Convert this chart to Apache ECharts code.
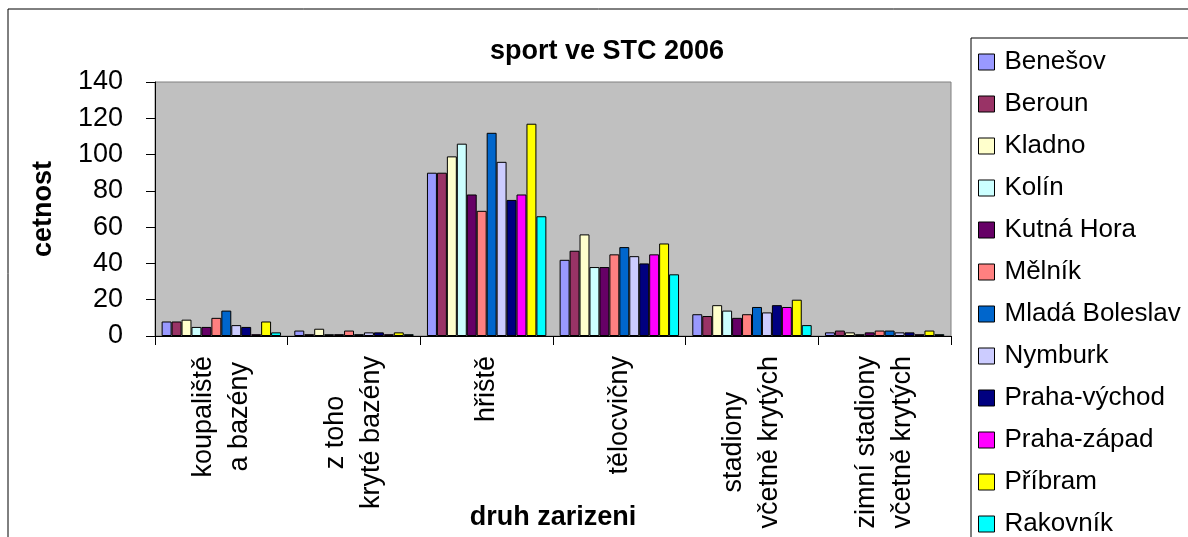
<!DOCTYPE html>
<html>
<head>
<meta charset="utf-8">
<script src="https://cdn.jsdelivr.net/npm/echarts@6/dist/echarts.min.js"></script>
<style>
html,body{margin:0;padding:0;background:#fff;}
#chart{width:1188px;height:537px;}
</style>
</head>
<body>
<div id="chart"></div>
<script>
const categories = ['koupaliště\na bazény', 'z toho\nkryté bazény', 'hřiště', 'tělocvičny', 'stadiony\nvčetně krytých', 'zimní stadiony\nvčetně krytých'];
const seriesNames = ['Benešov', 'Beroun', 'Kladno', 'Kolín', 'Kutná Hora', 'Mělník', 'Mladá Boleslav', 'Nymburk', 'Praha-východ', 'Praha-západ', 'Příbram', 'Rakovník'];
const benesov = [8, 3, 90, 42, 12, 2];
const beroun = [8, 1, 90, 47, 11, 3];
const kladno = [9, 4, 99, 56, 17, 2];
const kolin = [5, 1, 106, 38, 14, 1];
const kutnaHora = [5, 1, 78, 38, 10, 2];
const melnik = [10, 3, 69, 45, 12, 3];
const mladaBoleslav = [14, 1, 112, 49, 16, 3];
const nymburk = [6, 2, 96, 44, 13, 2];
const prahaVychod = [5, 2, 75, 40, 17, 2];
const prahaZapad = [1, 1, 78, 45, 16, 1];
const pribram = [8, 2, 117, 51, 20, 3];
const rakovnik = [2, 1, 66, 34, 6, 1];
const yTicks = [0, 20, 40, 60, 80, 100, 120, 140];
const colors = ['#9999FF', '#993366', '#FFFFCC', '#CCFFFF', '#660066', '#FF8080', '#0066CC', '#CCCCFF', '#000080', '#FF00FF', '#FFFF00', '#00FFFF'];

const allValues = [benesov, beroun, kladno, kolin, kutnaHora, melnik, mladaBoleslav, nymburk, prahaVychod, prahaZapad, pribram, rakovnik];
const FONT = "'Liberation Sans', Arial, sans-serif";

const chart = echarts.init(document.getElementById('chart'), null, {renderer: 'canvas'});
chart.setOption({
  animation: false,
  color: colors,
  textStyle: {fontFamily: FONT, color: '#000'},
  graphic: [{
    type: 'rect', silent: true, z: -10,
    shape: {x: 8, y: 9, width: 1300, height: 700},
    style: {fill: 'none', stroke: '#000', lineWidth: 1}
  }],
  title: {
    text: 'sport ve STC 2006',
    left: 602, top: 33, textAlign: 'center',
    textStyle: {fontFamily: FONT, fontSize: 27, fontWeight: 'bold', color: '#000'}
  },
  legend: {
    orient: 'vertical',
    left: 971, top: 38,
    height: 800,
    padding: [11, 40, 40, 7],
    itemGap: 16,
    itemWidth: 16, itemHeight: 16,
    icon: 'rect',
    borderColor: '#000', borderWidth: 1,
    itemStyle: {borderColor: '#000', borderWidth: 1},
    textStyle: {fontFamily: FONT, fontSize: 26, color: '#000', padding: [0, 0, 0, 5]},
    data: seriesNames
  },
  grid: {
    left: 155, top: 82, width: 796, height: 254,
    outerBoundsMode: 'none',
    containLabel: false,
    show: true, backgroundColor: '#C0C0C0', borderColor: '#808080', borderWidth: 1
  },
  xAxis: {
    type: 'category',
    data: categories,
    name: 'druh zarizeni',
    nameLocation: 'middle',
    nameGap: 168,
    nameMoveOverlap: false,
    nameTextStyle: {fontFamily: FONT, fontSize: 27, fontWeight: 'bold', color: '#000'},
    axisLine: {lineStyle: {color: '#000', width: 1}},
    axisTick: {show: true, length: 9, lineStyle: {color: '#000'}},
    axisLabel: {
      rotate: 90, margin: 20, interval: 0, hideOverlap: false,
      fontFamily: FONT, fontSize: 27, color: '#000',
      formatter: v => v.split('\n').map(s => '{c|' + s + '}').join('\n'),
      rich: {c: {align: 'center', lineHeight: 36, fontSize: 27, fontFamily: FONT, color: '#000'}}
    }
  },
  yAxis: {
    type: 'value',
    min: yTicks[0], max: yTicks[yTicks.length - 1], interval: 20,
    name: 'cetnost',
    nameLocation: 'middle',
    nameGap: 98,
    nameMoveOverlap: false,
    nameTextStyle: {fontFamily: FONT, fontSize: 27, fontWeight: 'bold', color: '#000'},
    axisLine: {show: true, lineStyle: {color: '#000', width: 1}},
    axisTick: {show: true, length: 9, lineStyle: {color: '#000'}},
    splitLine: {show: false},
    axisLabel: {margin: 32, fontFamily: FONT, fontSize: 27, color: '#000'}
  },
  series: seriesNames.map((name, i) => ({
    name: name,
    type: 'bar',
    data: allValues[i],
    barGap: '0%',
    barCategoryGap: '10%',
    itemStyle: {color: colors[i], borderColor: '#000', borderWidth: 1}
  }))
});
</script>
</body>
</html>
